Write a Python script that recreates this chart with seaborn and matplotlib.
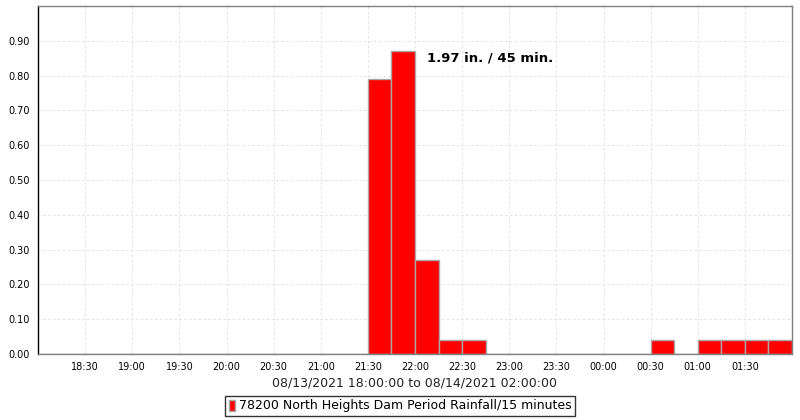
import numpy as np
import pandas as pd
import matplotlib
matplotlib.use("Agg")
import matplotlib.pyplot as plt
import seaborn as sns
from matplotlib.patches import Patch

# 15-minute rainfall totals (inches), interval start times
interval_starts = ["21:30", "21:45", "22:00", "22:15", "22:30",
                   "00:30", "01:00", "01:15", "01:30", "01:45"]
rainfall_in = [0.79, 0.87, 0.27, 0.04, 0.04,
               0.04, 0.04, 0.04, 0.04, 0.04]

tick_labels = ["18:30", "19:00", "19:30", "20:00", "20:30", "21:00", "21:30",
               "22:00", "22:30", "23:00", "23:30", "00:00", "00:30", "01:00", "01:30"]
y_ticks = [0.0, 0.1, 0.2, 0.3, 0.4, 0.5, 0.6, 0.7, 0.8, 0.9]

series_name = "78200 North Heights Dam Period Rainfall/15 minutes"
x_title = "08/13/2021 18:00:00 to 08/14/2021 02:00:00"
peak_note = "1.97 in. / 45 min."


def to_minutes(hhmm):
    # minutes since 18:00 on the first day
    h, m = map(int, hhmm.split(":"))
    mins = h * 60 + m - 18 * 60
    return mins if mins >= 0 else mins + 24 * 60


df = pd.DataFrame({"start": [to_minutes(t) for t in interval_starts],
                   "rain": rainfall_in})

sns.set_style("white")
plt.rcParams["font.family"] = ["DejaVu Sans"]
plt.rcParams["text.color"] = "black"
plt.rcParams["axes.labelcolor"] = "#222222"
plt.rcParams["xtick.color"] = "black"
plt.rcParams["ytick.color"] = "black"

fig = plt.figure(figsize=(8, 4.2), dpi=100)
ax = fig.add_axes([0.0475, 0.157, 0.9425, 0.8287])

sns.histplot(data=df, x="start", weights="rain", binwidth=15, binrange=(0, 480),
             color="#ff0000", edgecolor="#a8a8a8", linewidth=1.0, alpha=1.0, ax=ax)

ax.set_xlim(0, 480)
ax.set_ylim(0, 1.0)
ax.set_xticks([to_minutes(t) for t in tick_labels])
ax.set_xticklabels(tick_labels)
ax.set_yticks(y_ticks)
ax.set_yticklabels([f"{v:.2f}" for v in y_ticks])
ax.tick_params(axis="both", labelsize=7, length=3, width=1, color="black",
               direction="out", pad=3)
ax.set_ylabel("")
ax.set_xlabel(x_title, fontsize=9, labelpad=3)

ax.grid(True, color="#e2e2e2", linestyle=(0, (2.5, 2.5)), linewidth=0.7)
ax.set_axisbelow(True)

for side in ["top", "right", "bottom"]:
    ax.spines[side].set_visible(True)
    ax.spines[side].set_color("#808080")
ax.spines["left"].set_color("black")
for sp in ax.spines.values():
    sp.set_linewidth(1.0)

ax.text(0.516, 0.85, peak_note, transform=ax.transAxes, fontsize=9.5,
        fontweight="bold", ha="left", va="center", color="black")

handle = Patch(facecolor="#ff0000", edgecolor="#a8a8a8", linewidth=1)
leg = fig.legend([handle], [series_name], loc="lower center",
                 bbox_to_anchor=(0.5, 0.0), fontsize=9, frameon=True,
                 fancybox=False, edgecolor="black", handlelength=0.5,
                 handleheight=1.0, handletextpad=0.3, borderpad=0.3,
                 borderaxespad=0.3)
leg.get_frame().set_linewidth(1.0)

fig.savefig("out.png", dpi=100)
